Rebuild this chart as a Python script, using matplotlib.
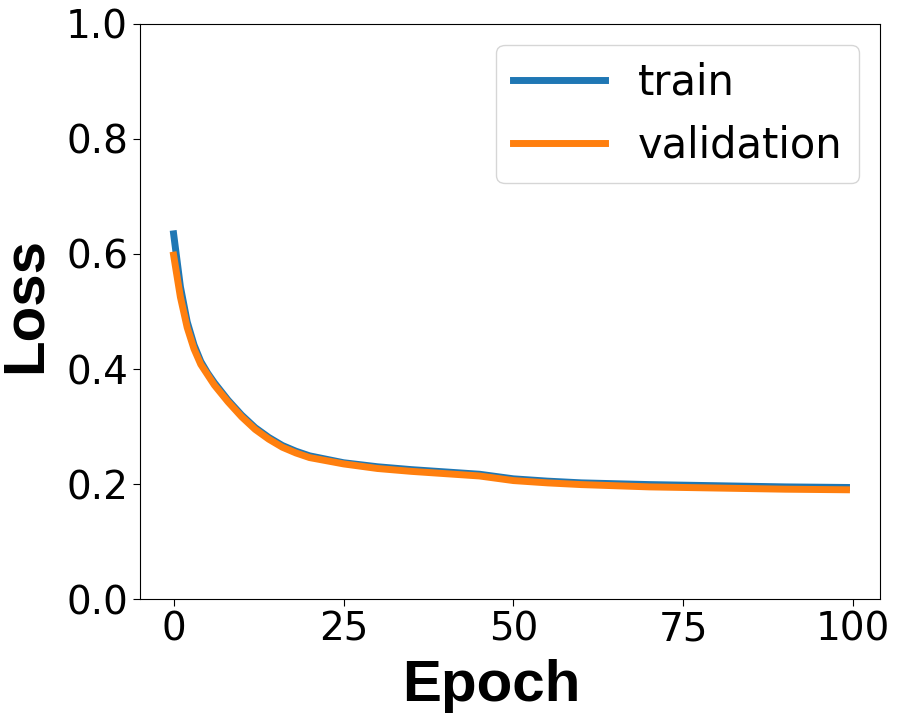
import matplotlib
matplotlib.use("Agg")
import matplotlib.pyplot as plt

epochs = [0, 1, 2, 3, 4, 5, 6, 8, 10, 12, 14, 16, 18, 20, 25, 30, 35, 40, 45, 50, 55, 60, 70, 80, 90, 99]
train_loss = [0.635, 0.543, 0.482, 0.442, 0.413, 0.393, 0.376, 0.346, 0.320, 0.298, 0.281, 0.267,
              0.257, 0.249, 0.237, 0.230, 0.225, 0.221, 0.217, 0.209, 0.205, 0.202, 0.199, 0.197,
              0.195, 0.194]
val_loss = [0.598, 0.525, 0.472, 0.435, 0.408, 0.390, 0.372, 0.343, 0.317, 0.295, 0.278, 0.264,
            0.254, 0.246, 0.235, 0.227, 0.222, 0.218, 0.214, 0.206, 0.202, 0.199, 0.195, 0.193,
            0.191, 0.190]
xticks = [0, 25, 50, 75, 100]
yticks = [0.0, 0.2, 0.4, 0.6, 0.8, 1.0]

fig = plt.figure(figsize=(8.99, 7.18), dpi=100)
ax = fig.add_axes([0.1557, 0.1657, 0.979 - 0.1557, 0.9666 - 0.1657])
ax.plot(epochs, train_loss, color="#1f77b4", linewidth=5, label="train")
ax.plot(epochs, val_loss, color="#ff7f0e", linewidth=5, label="validation")
ax.set_ylim(0, 1.0)
ax.set_xticks(xticks)
ax.set_yticks(yticks)
ax.set_yticklabels([f"{v:.1f}" for v in yticks])
ax.tick_params(labelsize=28, length=5)
ax.set_xlabel("Epoch", fontsize=42, fontweight="bold", family="Liberation Sans", labelpad=7)
ax.set_ylabel("Loss", fontsize=42, fontweight="bold", family="Liberation Sans", labelpad=10)
ax.xaxis.label.set_x(0.475)
ax.yaxis.label.set_y(0.511)
ax.legend(fontsize=30, loc="upper right", handlelength=2.2)
fig.savefig("out.png", dpi=100)
